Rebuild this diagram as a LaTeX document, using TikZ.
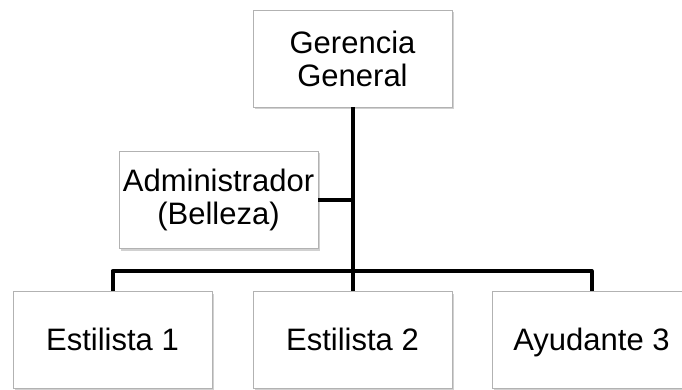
\documentclass[tikz,border=0pt]{standalone}
\usepackage{fontspec}
\setmainfont{Liberation Sans}
\usetikzlibrary{shadows}
\begin{document}
\begin{tikzpicture}[x=1pt,y=-1pt,
  puesto/.style={draw=gray!60,line width=0.8pt,fill=white,minimum width=199pt,minimum height=97pt,
    align=center,inner sep=0pt,font=\fontsize{31}{33}\selectfont,
    drop shadow={shadow xshift=1.5pt,shadow yshift=-2.5pt,fill=black!40,opacity=0.45}},
  unalinea/.style={text height=22pt,text depth=0pt},
  linea/.style={line width=4pt,line join=round}]
\useasboundingbox (0,0) rectangle (682,390);
\node[puesto](gg) at (352.5,58.5) {Gerencia\\General};
\node[puesto](adm) at (218.5,199.5) {Administrador\\(Belleza)};
\node[puesto,unalinea](e1) at (112.5,339.5) {Estilista 1};
\node[puesto,unalinea](e2) at (352.5,339.5) {Estilista 2};
\node[puesto,unalinea](ay3) at (591.5,339.5) {Ayudante 3};
\coordinate (barra) at (352.5,271);
\draw[linea] (gg.south) -- (e2.north);
\draw[linea] (adm.east) -- (adm.east -| gg.south);
\draw[linea] (e1.north) |- (barra) -| (ay3.north);
\end{tikzpicture}
\end{document}
